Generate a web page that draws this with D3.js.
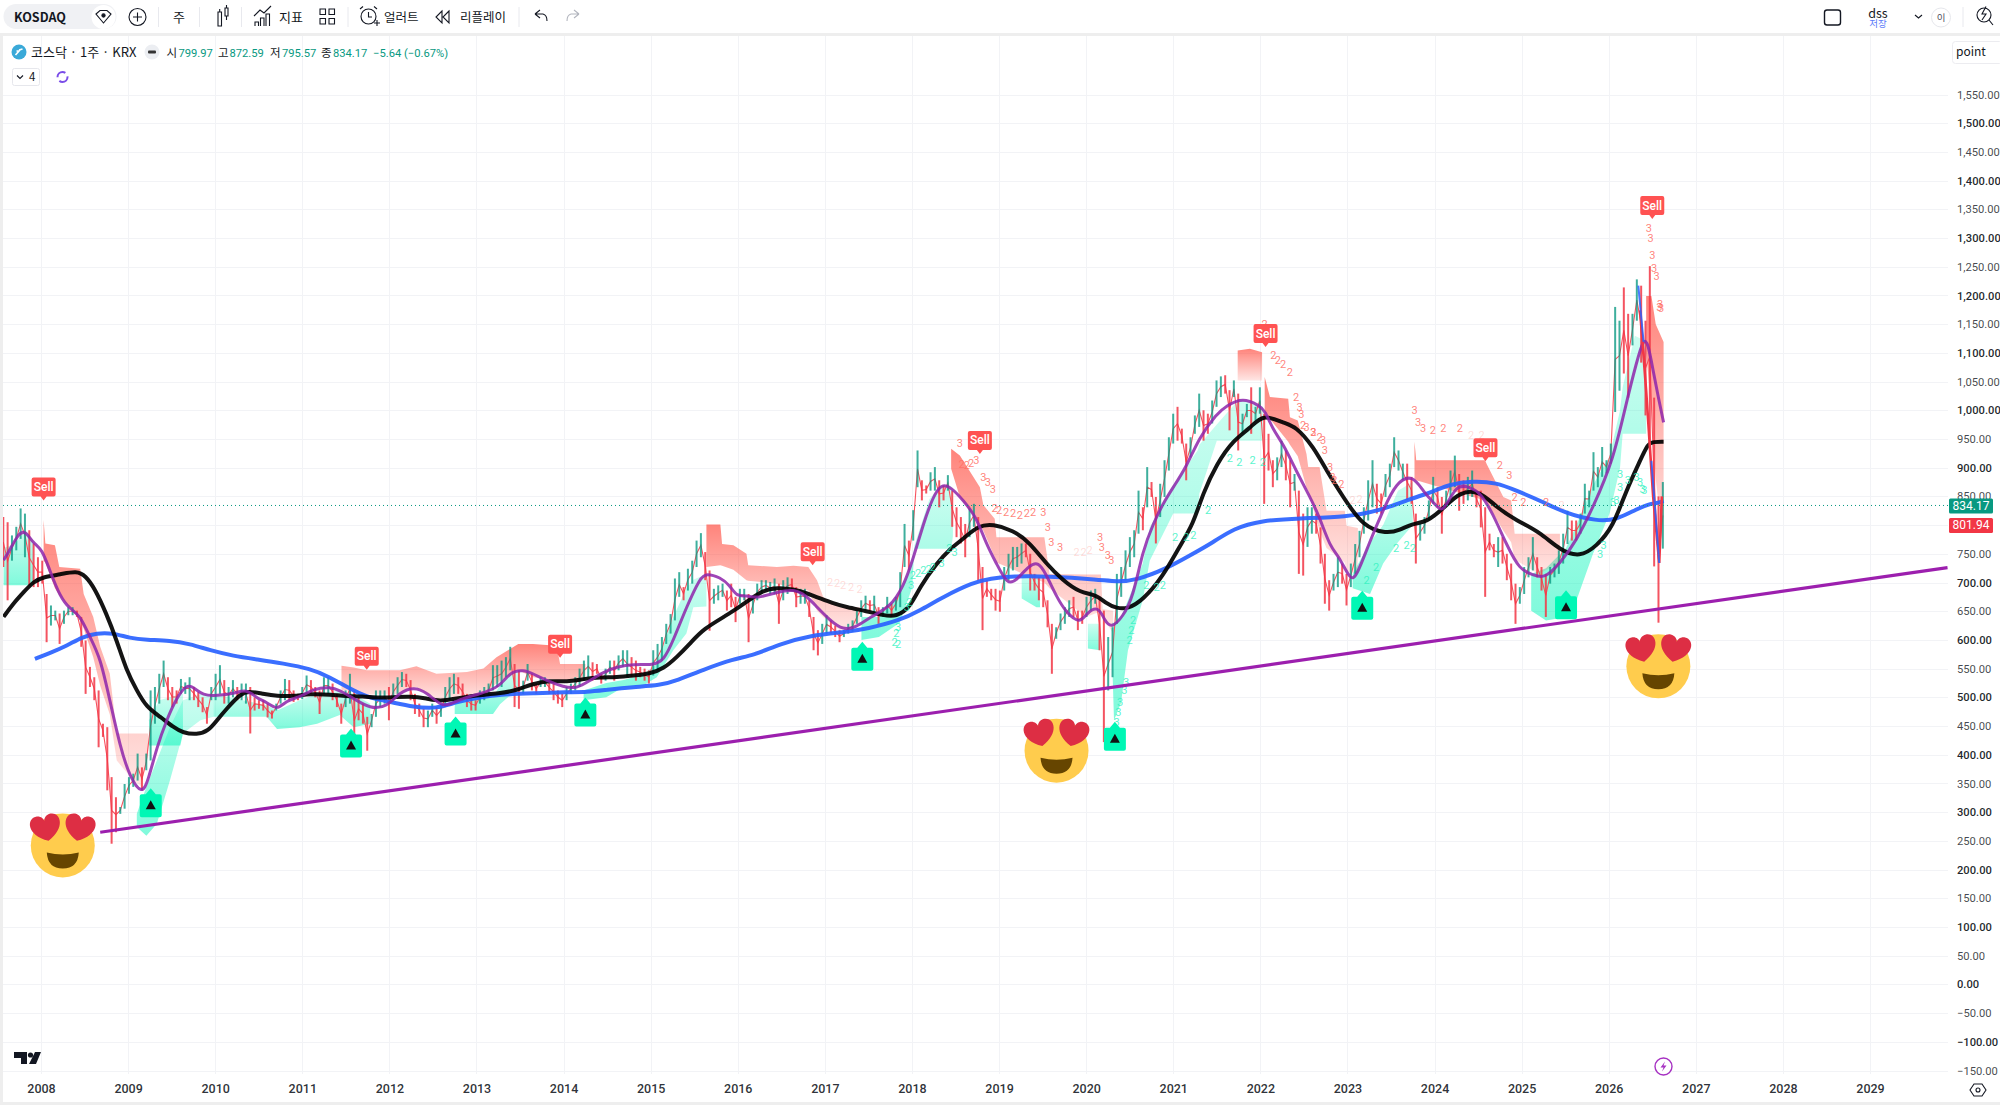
<!DOCTYPE html>
<html>
<head>
<meta charset="utf-8">
<title>KOSDAQ 1주</title>
<script src="https://d3js.org/d3.v7.min.js"></script>
<style>
  body { margin: 0; background: #fff; overflow: hidden; }
  svg { display: block; font-family: "Noto Sans CJK KR", "Noto Sans", sans-serif; }
  .tick-label { font-family: Roboto, "Noto Sans", sans-serif; }
</style>
</head>
<body>
<svg id="chart" width="2000" height="1105"></svg>
<script>
// price axis and time axis
var priceTicks = [1550,1500,1450,1400,1350,1300,1250,1200,1150,1100,1050,1000,950,900,850,800,750,700,650,600,550,500,450,400,350,300,250,200,150,100,50,0,-50,-100,-150];
var yearTicks = [2008,2009,2010,2011,2012,2013,2014,2015,2016,2017,2018,2019,2020,2021,2022,2023,2024,2025,2026,2027,2028,2029];

var lastClose = 834.17, otherTag = 801.94;

// weekly-ish bars: [high, low, up]
var firstBarYear = 2007.567, barStep = 0.04975;
var bars2007 = [[814,727,0],[805,669,0],[782,738,1],[797,756,1],[829,776,1],[820,744,1],[791,695,0],[768,692,0],[744,692,0],
[738,698,0],[680,596,0],[660,625,1],[651,634,1],[646,593,0],[651,628,1],[657,643,1],[657,643,1],[651,640,0],[640,588,0],[599,506,0],[553,518,0],[535,495,0],[512,413,0],[454,431,0],[448,338,0],[361,245,0],[326,265,0],[309,297,1],
[349,306,1],[361,332,1],[367,344,1],[402,355,1],[378,338,0],[402,373,1],[512,390,1],[518,454,1],[541,489,1],[564,518,1],[535,495,0],[518,483,0],[512,489,0],[532,506,1],[526,506,1],[535,495,1],[518,495,0],[509,483,0],[500,474,0],[483,454,0],
[518,495,1],[541,495,1],[556,506,1],[530,489,0],[518,489,1],[530,500,1],[518,495,0],[524,495,1],[524,489,1],[518,437,0],[500,477,0],[495,480,0],[495,477,0],[489,465,0],[477,463,0],[489,477,1],[512,489,1],[532,495,1],[530,495,0],[512,492,0],
[506,495,0],[518,497,1],[538,506,1],[530,506,0],[518,500,0],[512,471,0],[535,506,1],[535,506,1],[524,495,0],[506,483,0],[489,454,0],[512,483,1],[541,489,1],[512,407,0],[500,460,0],[489,454,0],[466,407,0],[471,448,1],[512,466,1],[512,483,1],
[512,489,1],[518,460,0],[524,495,1],[535,506,1],[544,518,1],[541,518,0],[530,495,0],[506,471,0],[489,466,0],[480,448,0],[477,448,1],[489,466,1],[483,454,0],[489,466,1],[518,483,1],[535,495,1],[541,506,1],[535,506,0],[524,495,0],[506,483,0],
[500,477,0],[495,477,0],[512,489,1],[518,495,1],[524,500,1],[556,512,1],[556,518,1]];
var bars2013 = [[564,518,1],[570,535,1],[588,547,1],[558,483,0],[547,480,0],[529,506,1],[558,529,1],[541,512,0],[524,506,0],[535,518,1],[535,518,1],[529,506,0],[524,495,0],[512,489,0],[506,483,0],[518,495,1],[524,506,1],[535,512,1],[550,518,1],
[564,529,1],[573,535,1],[561,529,0],[558,541,0],[541,524,0],[550,529,1],[564,541,1],[564,529,0],[573,547,1],[582,553,1],[582,535,1],[570,535,0],[564,529,0],[553,535,0],[550,529,0],[547,524,0],[582,538,1],[593,547,1],[605,564,1],[628,593,1],[645,611,1],
[707,634,1],[718,675,1],[692,669,0],[724,686,1],[738,698,1],[773,727,1],[786,744,1],[753,704,0],[721,616,0],[689,663,1],[695,669,1],[698,675,1],[686,651,0],[698,657,0],[675,631,0],[689,663,1],[689,669,1],[680,596,0],[675,646,1],[698,669,1],
[704,680,1],[704,686,1],[701,680,1],[707,680,1],[698,628,0],[704,669,1],[709,680,1],[707,686,0],[692,657,0],[689,663,1],[689,663,1],[669,640,0],[640,582,0],[617,573,0],[628,593,1],[643,611,1],[634,611,0],[625,605,0],[617,596,0],[617,605,1],
[628,611,1],[634,614,1],[651,628,1],[669,640,1],[677,651,1],[669,651,0],[677,646,1],[657,628,0],[657,640,1],[675,646,1],[663,640,0],[675,651,1],[718,657,1],[802,727,1],[773,721,0],[826,773,1]];
var bars2018 = [[930,866,1],[878,843,0],[869,855,0],[892,860,1],[901,860,1],[878,831,0],[869,843,0],[887,860,1],[860,797,0],[831,779,0],[814,768,0],[802,744,0],[829,779,1],[837,797,1],[814,704,0],[727,617,0],[704,675,0],[689,669,0],[689,651,0],[686,649,0],
[727,686,1],[750,704,1],[762,721,1],[762,727,1],[768,733,1],[768,744,0],[750,686,0],[715,686,0],[709,669,0],[709,657,0],[669,622,0],[628,541,0],[622,602,1],[646,617,1],[657,628,1],[669,640,1],[675,640,0],[651,617,0],[651,628,0],[675,640,1],
[686,651,1],[689,663,1],[675,582,0],[651,422,0],[605,512,1],[622,535,1],[715,628,1],[727,675,1],[756,704,1],[779,727,1],[791,744,1],[860,785,1],[831,791,0],[901,831,1],[875,849,0],[849,768,0],[872,814,1],[913,849,1],[953,895,1]];
var bars2021 = [[994,942,1],[1006,947,0],[968,942,0],[942,878,0],[953,918,1],[991,959,1],[1029,971,1],[1000,947,0],[994,959,0],[1017,977,1],[1052,1006,1],[1059,1023,1],[1061,1029,0],[1035,965,0],[1052,1023,1],[1029,930,0],[994,959,1],[1011,988,1],[1040,959,0],[1006,982,1],
[1040,994,1],[994,837,0],[959,895,0],[913,866,0],[918,878,1],[947,901,1],[930,878,0],[913,831,0],[889,860,1],[860,715,0],[820,712,0],[831,762,1],[831,785,1],[820,785,0],[796,733,0],[750,663,0],[704,651,0],[715,686,1],[744,692,1],[733,698,0],
[715,660,0],[733,692,1],[767,715,1],[790,744,1],[831,785,1],[878,808,1],[913,831,1],[872,820,0],[855,820,0],[889,849,1],[907,866,1],[953,901,1],[930,895,1],[907,878,1],[907,843,0],[884,837,0],[820,733,0],[802,773,1],[814,785,1],[843,808,1],
[884,837,1],[866,831,0],[849,785,0],[860,831,1],[895,849,1],[921,866,1],[889,825,0],[878,837,0],[884,843,1],[895,849,1],[860,831,0],[860,796,0],[831,675,0],[785,756,0],[767,744,0],[779,727,1],[779,733,0],[750,704,0],[733,669,0],[698,628,0],
[692,663,1],[727,680,1],[744,709,1],[779,721,1],[744,709,0],[727,686,0],[715,640,0],[727,698,1],[733,709,1],[756,715,1],[785,733,1],[825,767,1],[808,773,0],[808,773,0],[820,785,1],[872,820,1],[860,831,1],[927,860,1],[901,866,1],[936,884,1],
[913,890,1],[942,907,1]];
var bars2026 = [[1180,997,1],[1156,1034,1],[1214,1064,0],[1168,1022,0],[1168,1113,1],[1228,1156,1],[1217,1083,0],[1156,991,0],[1251,936,0],[1022,728,0],[850,630,0],[875,759,1]];

// moving averages: [year, value]
var fastMa = [[2007.57,739],[2007.64,756],[2007.74,785],[2007.82,791],[2007.91,768],[2008.01,759],[2008.10,721],[2008.22,675],[2008.33,654],[2008.45,643],[2008.56,605],[2008.68,570],[2008.79,495],[2008.91,413],[2009.02,361],[2009.16,330],[2009.23,355],[2009.33,413],[2009.44,460],[2009.56,500],[2009.67,522],[2009.75,518],[2009.86,503],[2010.02,503],[2010.21,506],[2010.36,515],[2010.48,498],[2010.59,492],[2010.71,477],[2010.82,495],[2010.97,500],[2011.13,515],[2011.32,518],[2011.43,512],[2011.59,498],[2011.78,480],[2011.97,483],[2012.12,509],[2012.28,518],[2012.43,509],[2012.62,480],[2012.77,495],[2013.04,506],[2013.27,518],[2013.38,544],[2013.54,548],[2013.65,541],[2013.81,529],[2014.0,518],[2014.15,515],[2014.30,529],[2014.46,544],[2014.61,553],[2014.80,558],[2015.03,556],[2015.15,564],[2015.26,599],[2015.41,657],[2015.57,709],[2015.64,716],[2015.80,709],[2015.91,695],[2015.99,675],[2016.10,678],[2016.22,672],[2016.45,683],[2016.64,689],[2016.79,677],[2016.91,657],[2017.06,634],[2017.21,617],[2017.36,622],[2017.52,640],[2017.75,657],[2017.90,692],[2018.01,739],[2018.13,802],[2018.24,849],[2018.34,872],[2018.45,866],[2018.59,843],[2018.74,814],[2018.85,768],[2018.97,733],[2019.10,695],[2019.20,704],[2019.35,730],[2019.45,736],[2019.54,715],[2019.66,675],[2019.77,648],[2019.93,628],[2020.0,646],[2020.14,660],[2020.21,634],[2020.29,620],[2020.42,640],[2020.54,675],[2020.65,756],[2020.77,802],[2020.88,837],[2021.0,866],[2021.15,901],[2021.30,953],[2021.50,994],[2021.61,1008],[2021.80,1022],[2021.99,1008],[2022.05,1000],[2022.15,965],[2022.26,942],[2022.41,895],[2022.57,849],[2022.68,814],[2022.80,762],[2022.91,744],[2023.03,705],[2023.10,708],[2023.26,773],[2023.41,826],[2023.56,875],[2023.75,888],[2023.87,858],[2024.02,834],[2024.10,820],[2024.25,872],[2024.40,866],[2024.52,858],[2024.67,820],[2024.82,768],[2024.98,721],[2025.13,714],[2025.26,706],[2025.44,733],[2025.63,773],[2025.82,831],[2026.05,912],[2026.20,1012],[2026.32,1084],[2026.40,1125],[2026.45,1118],[2026.51,1069],[2026.57,1022],[2026.63,979]];
var midMa = [[2007.57,640],[2007.68,663],[2007.80,683],[2007.91,701],[2008.03,710],[2008.22,714],[2008.41,720],[2008.51,712],[2008.62,689],[2008.75,646],[2008.87,599],[2008.98,547],[2009.10,512],[2009.21,483],[2009.37,466],[2009.52,448],[2009.63,438],[2009.79,435],[2009.92,441],[2010.02,460],[2010.13,480],[2010.29,506],[2010.38,511],[2010.55,506],[2010.71,502],[2010.90,502],[2011.09,506],[2011.32,505],[2011.51,502],[2011.70,502],[2011.85,499],[2012.05,500],[2012.24,502],[2012.43,498],[2012.58,493],[2012.77,498],[2012.96,503],[2013.27,507],[2013.46,512],[2013.65,524],[2013.84,529],[2014.04,527],[2014.23,532],[2014.42,535],[2014.61,535],[2014.80,538],[2014.99,541],[2015.15,550],[2015.30,570],[2015.45,593],[2015.60,619],[2015.91,646],[2016.10,666],[2016.29,687],[2016.45,691],[2016.64,689],[2016.87,677],[2017.10,663],[2017.25,657],[2017.48,650],[2017.67,643],[2017.82,640],[2017.98,657],[2018.09,692],[2018.28,733],[2018.44,759],[2018.59,776],[2018.76,799],[2018.93,802],[2019.16,791],[2019.35,770],[2019.54,733],[2019.73,704],[2019.93,682],[2020.12,679],[2020.23,663],[2020.35,655],[2020.48,654],[2020.65,669],[2020.88,710],[2021.07,762],[2021.23,802],[2021.34,855],[2021.50,907],[2021.69,948],[2021.88,968],[2022.03,994],[2022.26,978],[2022.41,972],[2022.61,936],[2022.76,895],[2022.95,849],[2023.18,797],[2023.45,785],[2023.60,791],[2023.75,803],[2023.91,805],[2024.10,829],[2024.29,858],[2024.52,860],[2024.71,831],[2024.94,808],[2025.21,788],[2025.44,756],[2025.67,744],[2025.86,763],[2026.05,797],[2026.20,860],[2026.36,912],[2026.45,942],[2026.51,945],[2026.63,945]];
var slowMa = [[2007.93,567],[2008.10,577],[2008.30,590],[2008.47,605],[2008.64,612],[2008.83,612],[2009.02,603],[2009.21,600],[2009.48,599],[2009.71,593],[2009.94,582],[2010.21,572],[2010.48,566],[2010.78,559],[2011.09,550],[2011.32,535],[2011.51,518],[2011.74,500],[2012.01,492],[2012.28,483],[2012.54,480],[2012.77,492],[2013.0,499],[2013.27,505],[2013.65,507],[2014.04,509],[2014.27,509],[2014.49,513],[2014.80,518],[2015.11,521],[2015.30,529],[2015.60,548],[2015.95,567],[2016.18,573],[2016.49,593],[2016.83,608],[2017.25,614],[2017.48,619],[2017.86,634],[2018.09,651],[2018.36,675],[2018.70,700],[2018.90,707],[2019.16,711],[2019.54,711],[2020.16,705],[2020.35,701],[2020.58,704],[2020.92,724],[2021.19,747],[2021.46,770],[2021.69,794],[2022.01,808],[2022.45,812],[2022.99,814],[2023.37,825],[2023.71,845],[2023.98,858],[2024.17,871],[2024.44,877],[2024.71,874],[2024.94,860],[2025.21,843],[2025.51,820],[2025.86,807],[2026.09,809],[2026.32,828],[2026.47,837],[2026.55,838],[2026.63,842]];

// sharp moves at the last peak
var fallRed = [[2026.36,1174],[2026.43,1034],[2026.51,850],[2026.58,734],[2026.61,850]];
var peakBlue = [[2026.34,1217],[2026.40,1119]];
var troughBlue = [[2026.49,912],[2026.58,734]];

// long trend line
var trendLine = [[2008.68,265],[2029.89,726]];

// cloud pieces: [year, top, bottom]
var redBands = [
  [[2008.03,809,738],[2008.05,768,735],[2008.16,765,690],[2008.21,727,678],[2008.45,724,634],[2008.49,680,620],[2008.60,640,570],[2008.68,588,520],[2008.79,541,470],[2008.87,437,390],[2009.06,437,355],[2009.15,437,345],[2009.23,437,400]],
  [[2011.45,555,512],[2011.59,552,512],[2011.74,547,505],[2012.12,547,505],[2012.31,554,518],[2012.54,541,495],[2012.89,544,500],[2013.08,550,505],[2013.23,570,524],[2013.48,593,547],[2013.65,593,535],[2013.92,590,530],[2013.96,558,530],[2014.25,558,529]],
  [[2015.64,801,727],[2015.80,801,730],[2015.82,767,729],[2015.95,765,722],[2016.10,750,704],[2016.12,730,703],[2016.45,727,698],[2016.64,729,690],[2016.81,727,686],[2016.91,704,651],[2016.98,675,640],[2017.17,657,617],[2017.40,657,628]],
  [[2018.45,933,898],[2018.55,921,849],[2018.78,866,800],[2018.82,835,790],[2018.95,811,744],[2018.97,779,735],[2019.28,779,715],[2019.52,779,700],[2019.58,715,690],[2020.0,714,640],[2020.17,714,650],[2020.19,654,640],[2020.31,651,611]],
  [[2021.74,1104,1052],[2021.88,1107,1052],[2022.02,1101,1052]],
  [[2022.05,1058,995],[2022.11,1023,985],[2022.32,1020,945],[2022.34,988,940],[2022.43,982,920],[2022.53,924,865],[2022.55,901,860],[2022.68,901,790],[2022.76,825,760],[2022.97,825,735],[2022.99,799,720],[2023.12,795,715]],
  [[2023.77,945,880],[2023.79,913,878],[2024.2,913,860],[2024.58,913,843],[2024.6,906,840],[2024.79,849,790],[2024.88,843,770],[2024.92,785,740],[2025.2,785,715],[2025.44,785,735]],
  [[2026.43,1199,1100],[2026.49,1199,1000],[2026.54,1150,880],[2026.63,1119,760]]
];
var tealBands = [
  [[2007.57,760,695],[2007.70,767,695],[2007.82,791,695],[2007.91,773,695]],
  [[2009.10,297,274],[2009.21,344,259],[2009.33,390,280],[2009.48,448,355],[2009.63,495,437],[2009.83,506,460],[2009.98,506,466]],
  [[2009.24,460,416],[2009.36,495,416],[2009.60,506,416],[2009.63,506,437]],
  [[2009.98,506,466],[2010.59,486,466],[2010.71,477,445],[2010.97,495,448],[2011.17,506,454],[2011.43,512,469],[2011.59,506,448],[2011.78,489,454]],
  [[2012.75,495,471],[2013.19,500,471],[2013.27,521,488],[2013.40,540,505],[2013.48,545,515]],
  [[2014.23,512,495],[2014.49,525,500],[2014.69,530,518],[2014.92,540,521],[2015.07,558,535],[2015.26,640,582],[2015.41,690,611],[2015.49,705,657],[2015.64,715,658]],
  [[2017.42,640,600],[2017.62,640,605],[2017.86,680,630],[2018.0,735,690],[2018.03,765,759],[2018.2,845,759],[2018.33,870,759],[2018.45,868,759],[2018.47,840,780]],
  [[2019.26,715,672],[2019.43,715,657],[2019.47,700,657]],
  [[2020.02,628,585],[2020.16,628,582]],
  [[2020.30,630,558],[2020.32,630,460],[2020.40,640,490],[2020.48,669,582],[2020.65,733,669],[2020.73,796,738],[2021.0,870,820],[2021.28,930,820],[2021.30,940,855],[2021.50,975,947],[2021.76,1020,947],[2022.03,1006,947]],
  [[2023.06,715,690],[2023.26,770,680],[2023.41,800,733],[2023.58,860,770],[2023.75,875,800]],
  [[2025.11,715,651],[2025.28,725,634],[2025.51,760,640],[2025.63,800,669],[2025.82,870,750],[2026.01,920,820],[2026.13,1000,900],[2026.16,1040,959],[2026.30,1130,959],[2026.43,1120,959]]
];

// little wave counts: [year, price, digit]
var redCounts = [[2018.55,943,"3"],[2018.74,913,"3"],[2018.57,907,"2"],[2018.63,904,"2"],[2018.68,908,"2"],[2018.82,884,"3"],[2018.87,875,"3"],[2018.93,863,"3"],[2018.95,829,"2"],[2019.00,826,"2"],[2019.08,823,"2"],[2019.16,820,"2"],[2019.24,817,"2"],[2019.32,820,"2"],[2019.39,823,"2"],[2019.51,823,"3"],[2019.56,797,"3"],[2019.60,770,"3"],[2019.70,762,"3"],[2020.16,779,"3"],[2020.18,762,"3"],[2020.25,747,"3"],[2020.29,739,"3"],[2022.49,974,"2"],[2022.61,962,"2"],[2022.72,948,"3"],[2022.80,901,"3"],[2022.85,878,"2"],[2022.93,872,"2"],[2022.05,1150,"2"],[2022.15,1096,"2"],[2022.20,1087,"2"],[2022.26,1081,"2"],[2022.34,1067,"2"],[2022.41,1023,"2"],[2022.45,1006,"3"],[2022.47,994,"3"],[2022.53,971,"3"],[2022.61,962,"3"],[2022.68,953,"2"],[2022.74,930,"3"],[2022.83,884,"3"],[2023.77,1000,"3"],[2023.81,980,"3"],[2023.87,968,"3"],[2023.98,965,"2"],[2024.10,968,"2"],[2024.29,968,"2"],[2024.75,904,"2"],[2024.86,887,"3"],[2024.92,849,"2"],[2025.02,840,"2"],[2025.28,840,"2"],[2026.46,1318,"3"],[2026.48,1300,"3"],[2026.50,1271,"3"],[2026.52,1248,"3"],[2026.55,1234,"3"],[2026.59,1184,"3"],[2026.60,1177,"3"],[2026.58,1180,"3"]];
var redCountsPale = [[2017.06,701,"2"],[2017.14,698,"2"],[2017.21,695,"2"],[2017.30,692,"2"],[2017.40,689,"2"],[2019.89,753,"2"],[2019.97,752,"2"],[2020.04,756,"2"],[2023.06,843,"2"],[2023.14,846,"2"],[2024.42,956,"2"],[2024.54,956,"2"],[2025.46,834,"2"]];
var tealCounts = [[2018.01,712,"2"],[2018.07,716,"2"],[2018.13,721,"2"],[2018.19,724,"2"],[2018.24,727,"2"],[2018.34,733,"3"],[2017.99,695,"3"],[2017.97,666,"2"],[2017.84,622,"3"],[2017.80,596,"2"],[2018.43,759,"2"],[2018.49,753,"3"],[2020.46,527,"3"],[2020.44,512,"3"],[2020.39,492,"3"],[2020.37,474,"3"],[2020.35,457,"3"],[2020.54,634,"2"],[2020.52,617,"2"],[2020.50,599,"2"],[2020.69,695,"2"],[2020.81,692,"2"],[2020.88,695,"2"],[2021.02,779,"2"],[2021.15,779,"2"],[2021.23,782,"2"],[2021.40,826,"2"],[2021.65,916,"2"],[2021.76,910,"2"],[2021.91,913,"2"],[2022.03,910,"2"],[2017.82,611,"2"],[2017.84,593,"2"],[2017.94,657,"3"],[2023.22,704,"2"],[2023.33,727,"2"],[2023.56,759,"2"],[2023.68,765,"2"],[2023.75,759,"2"],[2025.90,750,"3"],[2025.94,765,"3"],[2026.05,840,"3"],[2026.13,889,"3"],[2026.13,866,"3"],[2026.22,878,"3"],[2026.32,884,"3"],[2026.39,863,"3"],[2026.41,860,"3"],[2026.09,844,"3"],[2026.36,875,"3"]];

// signal tags: [year, price]
var sellTags = [[2008.03,843],[2011.74,548],[2013.96,569],[2016.86,730],[2018.78,924],[2022.06,1110],[2024.585,911],[2026.50,1333]];
var buyTags = [[2009.26,312],[2011.56,416],[2012.76,437],[2014.25,470],[2017.43,567],[2020.33,428],[2023.17,656],[2025.51,657]];
var faces = [[2008.25,242],[2019.66,407],[2026.57,554]];

var svg = d3.select("#chart");
var x = d3.scaleLinear().domain([2008, 2029]).range([41, 1870]);
var y = d3.scaleLinear().domain([1550, -150]).range([94.5, 1070.5]);
var plotLeft = 3, plotRight = 1948, plotTop = 36, plotBottom = 1074;

var defs = svg.append("defs");
function fade(id, color, a, b) {
  var g = defs.append("linearGradient").attr("id", id).attr("x1", 0).attr("x2", 0).attr("y1", 0).attr("y2", 1);
  g.append("stop").attr("offset", "0%").attr("stop-color", color).attr("stop-opacity", a);
  g.append("stop").attr("offset", "100%").attr("stop-color", color).attr("stop-opacity", b);
}
fade("redFade", "#ff4a3d", 0.68, 0.14);
fade("tealFade", "#00f5b8", 0.2, 0.5);
defs.append("clipPath").attr("id", "plot").append("rect")
  .attr("x", plotLeft).attr("y", plotTop).attr("width", plotRight - plotLeft).attr("height", plotBottom - plotTop);

// frame strips
svg.append("rect").attr("x", 0).attr("y", 33).attr("width", 2000).attr("height", 3).attr("fill", "#eeeeee");
svg.append("rect").attr("x", 0).attr("y", 33).attr("width", 3).attr("height", 1072).attr("fill", "#eeeeee");
svg.append("rect").attr("x", 0).attr("y", 1102).attr("width", 2000).attr("height", 3).attr("fill", "#eeeeee");

// grid
var grid = svg.append("g").attr("stroke", "#f2f3f6").attr("stroke-width", 1);
grid.selectAll(".h").data(priceTicks).enter().append("line")
  .attr("x1", plotLeft).attr("x2", plotRight)
  .attr("y1", function (d) { return Math.round(y(d)) + 0.5; })
  .attr("y2", function (d) { return Math.round(y(d)) + 0.5; });
grid.selectAll(".v").data(yearTicks).enter().append("line")
  .attr("y1", plotTop).attr("y2", plotBottom)
  .attr("x1", function (d) { return Math.round(x(d)) + 0.5; })
  .attr("x2", function (d) { return Math.round(x(d)) + 0.5; });

var chart = svg.append("g").attr("clip-path", "url(#plot)");

// clouds
var band = d3.area()
  .x(function (d) { return x(d[0]); })
  .y0(function (d) { return y(d[2]); })
  .y1(function (d) { return y(d[1]); });
chart.selectAll(".teal").data(tealBands).enter().append("path")
  .attr("d", band).attr("fill", "url(#tealFade)");
chart.selectAll(".red").data(redBands).enter().append("path")
  .attr("d", band).attr("fill", "url(#redFade)");

// bars
var bars = bars2007.concat(bars2013, bars2018, bars2021, bars2026);
function barYear(i) { return firstBarYear + i * barStep; }

// thin close line through the bars
var closeLine = d3.line()
  .x(function (d, i) { return x(barYear(i)); })
  .y(function (d) { return y((d[0] + d[1]) / 2); });
chart.append("path").datum(bars).attr("d", closeLine)
  .attr("fill", "none").attr("stroke", "#f7525f").attr("stroke-width", 1.1);

chart.selectAll(".bar").data(bars).enter().append("line")
  .attr("x1", function (d, i) { return x(barYear(i)); })
  .attr("x2", function (d, i) { return x(barYear(i)); })
  .attr("y1", function (d) { return y(d[0]); })
  .attr("y2", function (d) { return y(d[1]); })
  .attr("stroke", function (d) { return d[2] ? "#089981" : "#f23645"; })
  .attr("stroke-opacity", function (d) { return d[2] ? 0.78 : 0.85; })
  .attr("stroke-width", 2);

// moving averages
var maLine = d3.line().curve(d3.curveBasis)
  .x(function (d) { return x(d[0]); })
  .y(function (d) { return y(d[1]); });
var straight = d3.line()
  .x(function (d) { return x(d[0]); })
  .y(function (d) { return y(d[1]); });
chart.append("path").datum(slowMa).attr("d", maLine).attr("fill", "none")
  .attr("stroke", "#2962ff").attr("stroke-width", 4).attr("stroke-opacity", 0.92);
chart.append("path").datum(midMa).attr("d", maLine).attr("fill", "none")
  .attr("stroke", "#000").attr("stroke-width", 4).attr("stroke-opacity", 0.92);
chart.append("path").datum(fastMa).attr("d", maLine).attr("fill", "none")
  .attr("stroke", "#8e24aa").attr("stroke-width", 3).attr("stroke-opacity", 0.85);
chart.append("path").datum(fallRed).attr("d", straight).attr("fill", "none")
  .attr("stroke", "#f23645").attr("stroke-width", 2.6);
[peakBlue, troughBlue].forEach(function (s) {
  chart.append("path").datum(s).attr("d", straight).attr("fill", "none")
    .attr("stroke", "#2962ff").attr("stroke-width", 2).attr("stroke-opacity", 0.85);
});

// wave counts
function counts(rows, color, opacity) {
  chart.append("g").selectAll("text").data(rows).enter().append("text")
    .attr("x", function (d) { return x(d[0]); })
    .attr("y", function (d) { return y(d[1]); })
    .attr("text-anchor", "middle").attr("dy", "0.35em")
    .attr("font-size", 11).attr("font-family", "Roboto, sans-serif")
    .attr("fill", color).attr("fill-opacity", opacity)
    .text(function (d) { return d[2]; });
}
counts(redCountsPale, "#ff8a80", 0.3);
counts(redCounts, "#ff6f66", 0.85);
counts(tealCounts, "#2ef2c0", 0.8);

// last price line
chart.append("line")
  .attr("x1", plotLeft).attr("x2", plotRight)
  .attr("y1", y(lastClose)).attr("y2", y(lastClose))
  .attr("stroke", "#089981").attr("stroke-width", 1).attr("stroke-dasharray", "1 3");

// trend line
chart.append("path").datum(trendLine).attr("d", straight)
  .attr("fill", "none").attr("stroke", "#9c1fae").attr("stroke-width", 3.2);

// sell tags
var sell = chart.selectAll(".sell").data(sellTags).enter().append("g")
  .attr("transform", function (d) { return "translate(" + x(d[0]) + "," + y(d[1]) + ")"; });
sell.append("path").attr("d", "M-12,-21 Q-12,-23 -10,-23 H10 Q12,-23 12,-21 V-6 Q12,-4 10,-4 H3 L0,0 L-3,-4 H-10 Q-12,-4 -12,-6 Z")
  .attr("fill", "#ff5252");
sell.append("text").attr("y", -9.5).attr("text-anchor", "middle")
  .attr("font-size", 12).attr("font-family", "Roboto, sans-serif").attr("font-weight", 500).attr("fill", "#fff").text("Sell");

// buy tags
var buy = chart.selectAll(".buy").data(buyTags).enter().append("g")
  .attr("transform", function (d) { return "translate(" + x(d[0]) + "," + y(d[1]) + ")"; });
buy.append("path").attr("d", "M-11,-9 Q-11,-11 -9,-11 H-5 L0,-17 L5,-11 H9 Q11,-11 11,-9 V10 Q11,12 9,12 H-9 Q-11,12 -11,10 Z")
  .attr("fill", "#00f7b5");
buy.append("path").attr("d", "M0,-5 L5,4 H-5 Z").attr("fill", "#111");

// heart eye faces
var heart = "M0,13 C-20,3 -16,-12 -7,-12 C-3,-12 0,-9 0,-6 C0,-9 3,-12 7,-12 C16,-12 20,3 0,13 Z";
var face = svg.selectAll(".face").data(faces).enter().append("g")
  .attr("transform", function (d) { return "translate(" + x(d[0]) + "," + y(d[1]) + ")"; });
face.append("circle").attr("r", 32).attr("fill", "#ffcc4d");
face.append("path").attr("d", "M-16,7 Q0,11 16,7 Q15,23 0,23 Q-15,23 -16,7 Z").attr("fill", "#664500");
face.append("path").attr("d", heart).attr("fill", "#dd2e44").attr("transform", "translate(-17,-18) rotate(-12) scale(1.05)");
face.append("path").attr("d", heart).attr("fill", "#dd2e44").attr("transform", "translate(17,-18) rotate(12) scale(1.05)");

// axes; the 800 label sits under the red tag in the chart, so it is left out
var yAxis = svg.append("g").attr("class", "tick-label").attr("transform", "translate(1951,0)")
  .call(d3.axisRight(y).tickValues(priceTicks.filter(function (d) { return d !== 800; }))
    .tickFormat(d3.format(",.2f")).tickSize(0).tickPadding(6));
yAxis.select(".domain").remove();
yAxis.selectAll("text").attr("font-size", 11.2).attr("fill", "#131722")
  .attr("font-weight", function (d) { return d % 100 === 0 ? 500 : 400; })
  .attr("fill-opacity", function (d) { return d % 100 === 0 ? 0.95 : 0.8; });

var xAxis = svg.append("g").attr("class", "tick-label").attr("transform", "translate(0,1084)")
  .call(d3.axisBottom(x).tickValues(yearTicks).tickFormat(d3.format("d")).tickSize(0).tickPadding(0));
xAxis.select(".domain").remove();
xAxis.selectAll("text").attr("font-size", 12.5).attr("font-weight", 500).attr("fill", "#131722").attr("fill-opacity", 0.9);

// price tags
function priceTag(v, color, top) {
  svg.append("rect").attr("x", 1949).attr("y", top).attr("width", 44).attr("height", 15).attr("rx", 1.5).attr("fill", color);
  svg.append("text").attr("class", "tick-label").attr("x", 1971).attr("y", top + 11.5).attr("text-anchor", "middle")
    .attr("font-size", 12).attr("fill", "#fff").text(d3.format(".2f")(v));
}
priceTag(lastClose, "#089981", y(lastClose) - 7);
priceTag(otherTag, "#f23645", y(otherTag) - 6);

// top toolbar
var ink = "#131722";
function label(t, px, py, size, opts) {
  opts = opts || {};
  return svg.append("text").attr("x", px).attr("y", py).attr("font-size", size)
    .attr("fill", opts.fill || ink).attr("font-weight", opts.weight || 400)
    .attr("text-anchor", opts.anchor || "start").attr("font-family", opts.family || null).text(t);
}
function sep(px) {
  svg.append("line").attr("x1", px).attr("x2", px).attr("y1", 7).attr("y2", 27).attr("stroke", "#e8e9ee");
}

// boxes go first, icon strokes sit on top of them
svg.append("rect").attr("x", 3.5).attr("y", 4).attr("width", 113).attr("height", 25).attr("rx", 12.5).attr("fill", "#f0f1f4");
svg.append("circle").attr("cx", 103.5).attr("cy", 17).attr("r", 12).attr("fill", "#fff");
svg.append("rect").attr("x", 12.5).attr("y", 68.5).attr("width", 27).attr("height", 17).attr("rx", 2).attr("fill", "#fff").attr("stroke", "#e6e7ec");
svg.append("circle").attr("cx", 1941).attr("cy", 17.5).attr("r", 9.5).attr("fill", "#fff").attr("stroke", "#e6e7ec");
var icon = svg.append("g").attr("fill", "none").attr("stroke", ink).attr("stroke-width", 1.1);

label("KOSDAQ", 14, 22, 12.5, { weight: 700 });
icon.append("path").attr("d", "M96,14 L100,10.5 H107 L111,14 L103.5,23 Z");
icon.append("circle").attr("cx", 103.5).attr("cy", 15.5).attr("r", 1.6).attr("fill", ink);

icon.append("circle").attr("cx", 137.5).attr("cy", 17).attr("r", 8.5);
icon.append("path").attr("d", "M137.5,12.5 V21.5 M133,17 H142");
sep(158.5);
label("주", 179, 22, 13, { anchor: "middle" });
sep(199.5);
icon.append("path").attr("d", "M218,12 H221.5 V26 H218 Z M219.7,9 V12 M225,8 H228 V16 H225 Z M226.5,5 V8 M226.5,16 V20");
sep(241.5);
icon.append("path").attr("d", "M255,26 V22 H258.5 V26 M260.5,26 V18 H264 V26 M266,26 V14 H269.5 V26 M254,16 L260,10 L264,13 L271,6");
label("지표", 279, 22, 13);
icon.append("path").attr("d", "M320,9 h5.5 v5.5 h-5.5 Z M329,9 h5.5 v5.5 h-5.5 Z M320,18.5 h5.5 v5.5 h-5.5 Z M329,18.5 h5.5 v5.5 h-5.5 Z");
sep(348);
icon.append("circle").attr("cx", 368.5).attr("cy", 16.5).attr("r", 7.5);
icon.append("path").attr("d", "M368.5,12 V17 H372 M360,9 L363,6.5 M377,9 L374,6.5 M374,23 H380 M377,20 V26");
label("얼러트", 384, 22, 12.5);
icon.append("path").attr("d", "M442,11 L436,17 L442,23 Z M449,11 L443,17 L449,23 Z");
label("리플레이", 460, 22, 12.5);
sep(519);
icon.append("path").attr("d", "M535,14 L540,10 M535,14 L540,18 M535,14 H543 Q547,15 547,21");
icon.append("path").attr("stroke", "#b2b5be").attr("d", "M579,14 L574,10 M579,14 L574,18 M579,14 H571 Q567,15 567,21");

icon.append("rect").attr("x", 1824.5).attr("y", 10).attr("width", 16).attr("height", 15).attr("rx", 2.5).attr("stroke-width", 1.4);
label("dss", 1878, 18, 12.5, { anchor: "middle" });
label("저장", 1878, 27, 9.5, { anchor: "middle", fill: "#5b7cfa" });
icon.append("path").attr("d", "M1915,15 L1918.5,18 L1922,15");
label("이", 1941, 21, 9.5, { anchor: "middle", fill: "#50535e" });
sep(1963);
icon.append("circle").attr("cx", 1984).attr("cy", 15).attr("r", 7);
icon.append("path").attr("d", "M1989,20 L1993,25 M1986,6.5 L1982,14 H1986 L1982,20");

// legend row
svg.append("circle").attr("cx", 19).attr("cy", 52).attr("r", 7.5).attr("fill", "#3aa9d8");
svg.append("path").attr("d", "M15.5,55 L19,51 L16.5,51 M19,50 L22.5,49").attr("stroke", "#fff").attr("stroke-width", 1.6).attr("fill", "none");
label("코스닥 · 1주 · KRX", 31, 57, 13);
svg.append("circle").attr("cx", 152).attr("cy", 52).attr("r", 7.5).attr("fill", "#eceef2");
svg.append("rect").attr("x", 148).attr("y", 50.5).attr("width", 8).attr("height", 3).attr("rx", 1).attr("fill", "#333");
var teal = "#089981";
label("시", 166.5, 56.5, 11.5);
label("799.97", 178.5, 56.5, 11.2, { fill: teal, family: "Roboto" });
label("고", 218, 56.5, 11.5);
label("872.59", 229.5, 56.5, 11.2, { fill: teal, family: "Roboto" });
label("저", 270, 56.5, 11.5);
label("795.57", 282, 56.5, 11.2, { fill: teal, family: "Roboto" });
label("종", 321, 56.5, 11.5);
label("834.17", 333, 56.5, 11.2, { fill: teal, family: "Roboto" });
label("−5.64 (−0.67%)", 373, 56.5, 11.2, { fill: teal, family: "Roboto" });

icon.append("path").attr("d", "M17,75.5 L20,78.5 L23,75.5");
label("4", 29, 81, 11.5);
svg.append("circle").attr("cx", 62.5).attr("cy", 77).attr("r", 5).attr("fill", "none").attr("stroke", "#7a4de8").attr("stroke-width", 2).attr("stroke-dasharray", "11 4");

svg.append("rect").attr("x", 1952.5).attr("y", 41.5).attr("width", 50).attr("height", 22).attr("rx", 3).attr("fill", "#fff").attr("stroke", "#ececf0");
label("point", 1956, 56, 12);

// tradingview mark, lightning badge, settings
svg.append("path").attr("d", "M14,1052 H27 V1064 H21 V1058 H14 Z M35,1052 H41 L36,1064 H29 Z").attr("fill", "#131722");
svg.append("circle").attr("cx", 30.5).attr("cy", 1055).attr("r", 2.6).attr("fill", "#131722");
svg.append("circle").attr("cx", 1663.5).attr("cy", 1066.5).attr("r", 8.5).attr("fill", "#fff").attr("stroke", "#a631c2").attr("stroke-width", 1.4);
svg.append("path").attr("d", "M1665,1061.5 L1660.5,1067.5 H1663.5 L1662,1071.5 L1666.5,1065.5 H1663.5 Z").attr("fill", "#a631c2");
icon.append("path").attr("d", "M1974,1084 H1982 L1986,1090 L1982,1096 H1974 L1970,1090 Z");
icon.append("circle").attr("cx", 1978).attr("cy", 1090).attr("r", 2);
</script>
</body>
</html>
